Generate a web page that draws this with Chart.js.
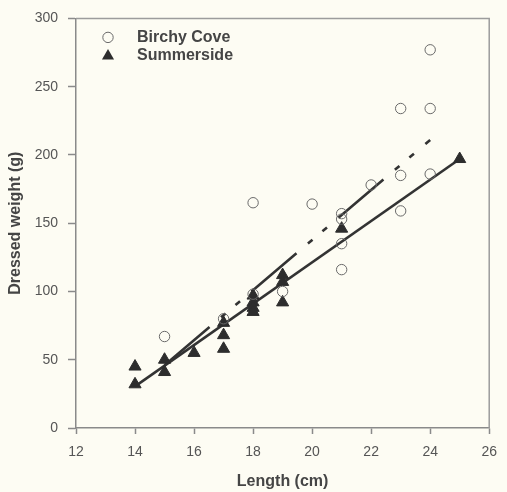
<!DOCTYPE html>
<html><head><meta charset="utf-8">
<script src="https://cdn.jsdelivr.net/npm/chart.js@4.4.0/dist/chart.umd.min.js"></script>
<style>html,body{margin:0;padding:0;background:#fdfcf3;} canvas{display:block;}</style>
</head><body><canvas id="c" width="507" height="492"></canvas>
<script>
const seriesNames = ['Birchy Cove', 'Summerside'];
const birchyLength = [15,17,18,18,19,20,21,21,21,21,22,23,23,23,24,24,24];
const birchyWeight = [67,80,165,98,100,164,157,153,135,116,178,234,185,159,277,234,186];
const summersideLength = [14,14,15,15,16,17,17,17,18,18,18,18,19,19,19,21,25];
const summersideWeight = [45,32,50,41,55,77,68,58,97,92,88,85,112,107,92,146,197];
const birchyFitLength = [15,24];
const birchyFitWeight = [46,211];
const summersideFitLength = [14,25];
const summersideFitWeight = [30.5,197];
const xTickValues = [12,14,16,18,20,22,24,26];
const yTickValues = [0,50,100,150,200,250,300];
const xTitle = 'Length (cm)';
const yTitle = 'Dressed weight (g)';

const pts = (xs, ys) => xs.map((x, i) => ({x: x, y: ys[i]}));
const FONT = '"Liberation Sans", Arial, sans-serif';
const AXIS = '#8a8a8a';
const BG = '#fdfcf3';

const bgPlugin = {
  id: 'bg',
  beforeDraw(chart) {
    const ctx = chart.ctx;
    ctx.save(); ctx.fillStyle = BG; ctx.fillRect(0, 0, chart.width, chart.height); ctx.restore();
  },
  beforeDatasetsDraw(chart) {
    const {ctx, chartArea: a} = chart;
    ctx.save();
    ctx.strokeStyle = '#9c9c9c'; ctx.lineWidth = 1.5;
    ctx.beginPath();
    ctx.moveTo(a.left, a.top); ctx.lineTo(a.right, a.top); ctx.lineTo(a.right, a.bottom);
    ctx.stroke();
    ctx.restore();
  },
  afterDraw(chart) {
    const {ctx, chartArea: a} = chart;
    const ds = chart.data.datasets;
    ctx.save();
    ctx.font = 'bold 16px ' + FONT;
    ctx.textBaseline = 'middle';
    ctx.textAlign = 'left';
    [ds[0], ds[1]].forEach((d, i) => {
      const cx = a.left + 32, cy = a.top + 19 + i * 18.5;
      ctx.fillStyle = d.backgroundColor; ctx.strokeStyle = d.borderColor; ctx.lineWidth = d.borderWidth;
      ctx.beginPath();
      if (d.pointStyle === 'circle') {
        ctx.arc(cx, cy, d.pointRadius, 0, Math.PI * 2);
        ctx.stroke();
      } else {
        const r = d.pointRadius;
        ctx.moveTo(cx, cy - r);
        ctx.lineTo(cx + r * Math.sin(Math.PI/3), cy + r * 0.5);
        ctx.lineTo(cx - r * Math.sin(Math.PI/3), cy + r * 0.5);
        ctx.closePath();
        ctx.fill();
      }
      ctx.fillStyle = '#454545';
      ctx.fillText(d.label, a.left + 61, cy);
    });
    ctx.restore();
  }
};

new Chart(document.getElementById('c'), {
  type: 'scatter',
  data: {
    datasets: [
      {label: seriesNames[0], data: pts(birchyLength, birchyWeight), pointStyle: 'circle', pointRadius: 5.2,
       pointHoverRadius: 5.2, backgroundColor: 'rgba(0,0,0,0)', borderColor: '#6a6a6a', borderWidth: 1, order: 0},
      {label: seriesNames[1], data: pts(summersideLength, summersideWeight), pointStyle: 'triangle', pointRadius: 7,
       pointHoverRadius: 7, backgroundColor: '#2d2d2d', borderColor: '#2d2d2d', borderWidth: 1, order: 0},
      {label: seriesNames[0] + ' fit', data: pts(birchyFitLength, birchyFitWeight), showLine: true, pointRadius: 0,
       borderColor: '#333333', borderWidth: 2.6, borderDash: [59, 15, 6, 13, 6, 15], borderCapStyle: 'butt', order: 1},
      {label: seriesNames[1] + ' fit', data: pts(summersideFitLength, summersideFitWeight), showLine: true, pointRadius: 0,
       borderColor: '#333333', borderWidth: 2.6, order: 1}
    ]
  },
  options: {
    responsive: false,
    animation: false,
    devicePixelRatio: 1,
    layout: {padding: {top: 15, right: 13, left: 0, bottom: 0}},
    plugins: {legend: {display: false}, tooltip: {enabled: false}},
    scales: {
      x: {
        type: 'linear', min: xTickValues[0], max: xTickValues[xTickValues.length - 1],
        afterBuildTicks: s => { s.ticks = xTickValues.map(v => ({value: v})); },
        afterFit: s => { s.height = 64; },
        grid: {drawOnChartArea: false, drawTicks: true, tickLength: 6, tickColor: AXIS, tickWidth: 1.5},
        border: {display: true, color: AXIS, width: 1.5},
        ticks: {color: '#555', font: {family: FONT, size: 14}, padding: 10, maxRotation: 0},
        title: {display: true, text: xTitle, color: '#454545', font: {family: FONT, size: 16, weight: 'bold'}, padding: {top: 0, bottom: 1}}
      },
      y: {
        type: 'linear', min: yTickValues[0], max: yTickValues[yTickValues.length - 1],
        afterBuildTicks: s => { s.ticks = yTickValues.map(v => ({value: v})); },
        afterFit: s => { s.width = 76; },
        grid: {drawOnChartArea: false, drawTicks: true, tickLength: 8, tickColor: AXIS, tickWidth: 1.5},
        border: {display: true, color: AXIS, width: 1.5},
        ticks: {color: '#555', font: {family: FONT, size: 14}, padding: 10},
        title: {display: true, text: yTitle, color: '#454545', font: {family: FONT, size: 16, weight: 'bold'}, padding: {top: 6, bottom: 0}}
      }
    }
  },
  plugins: [bgPlugin]
});
</script>
</body></html>
